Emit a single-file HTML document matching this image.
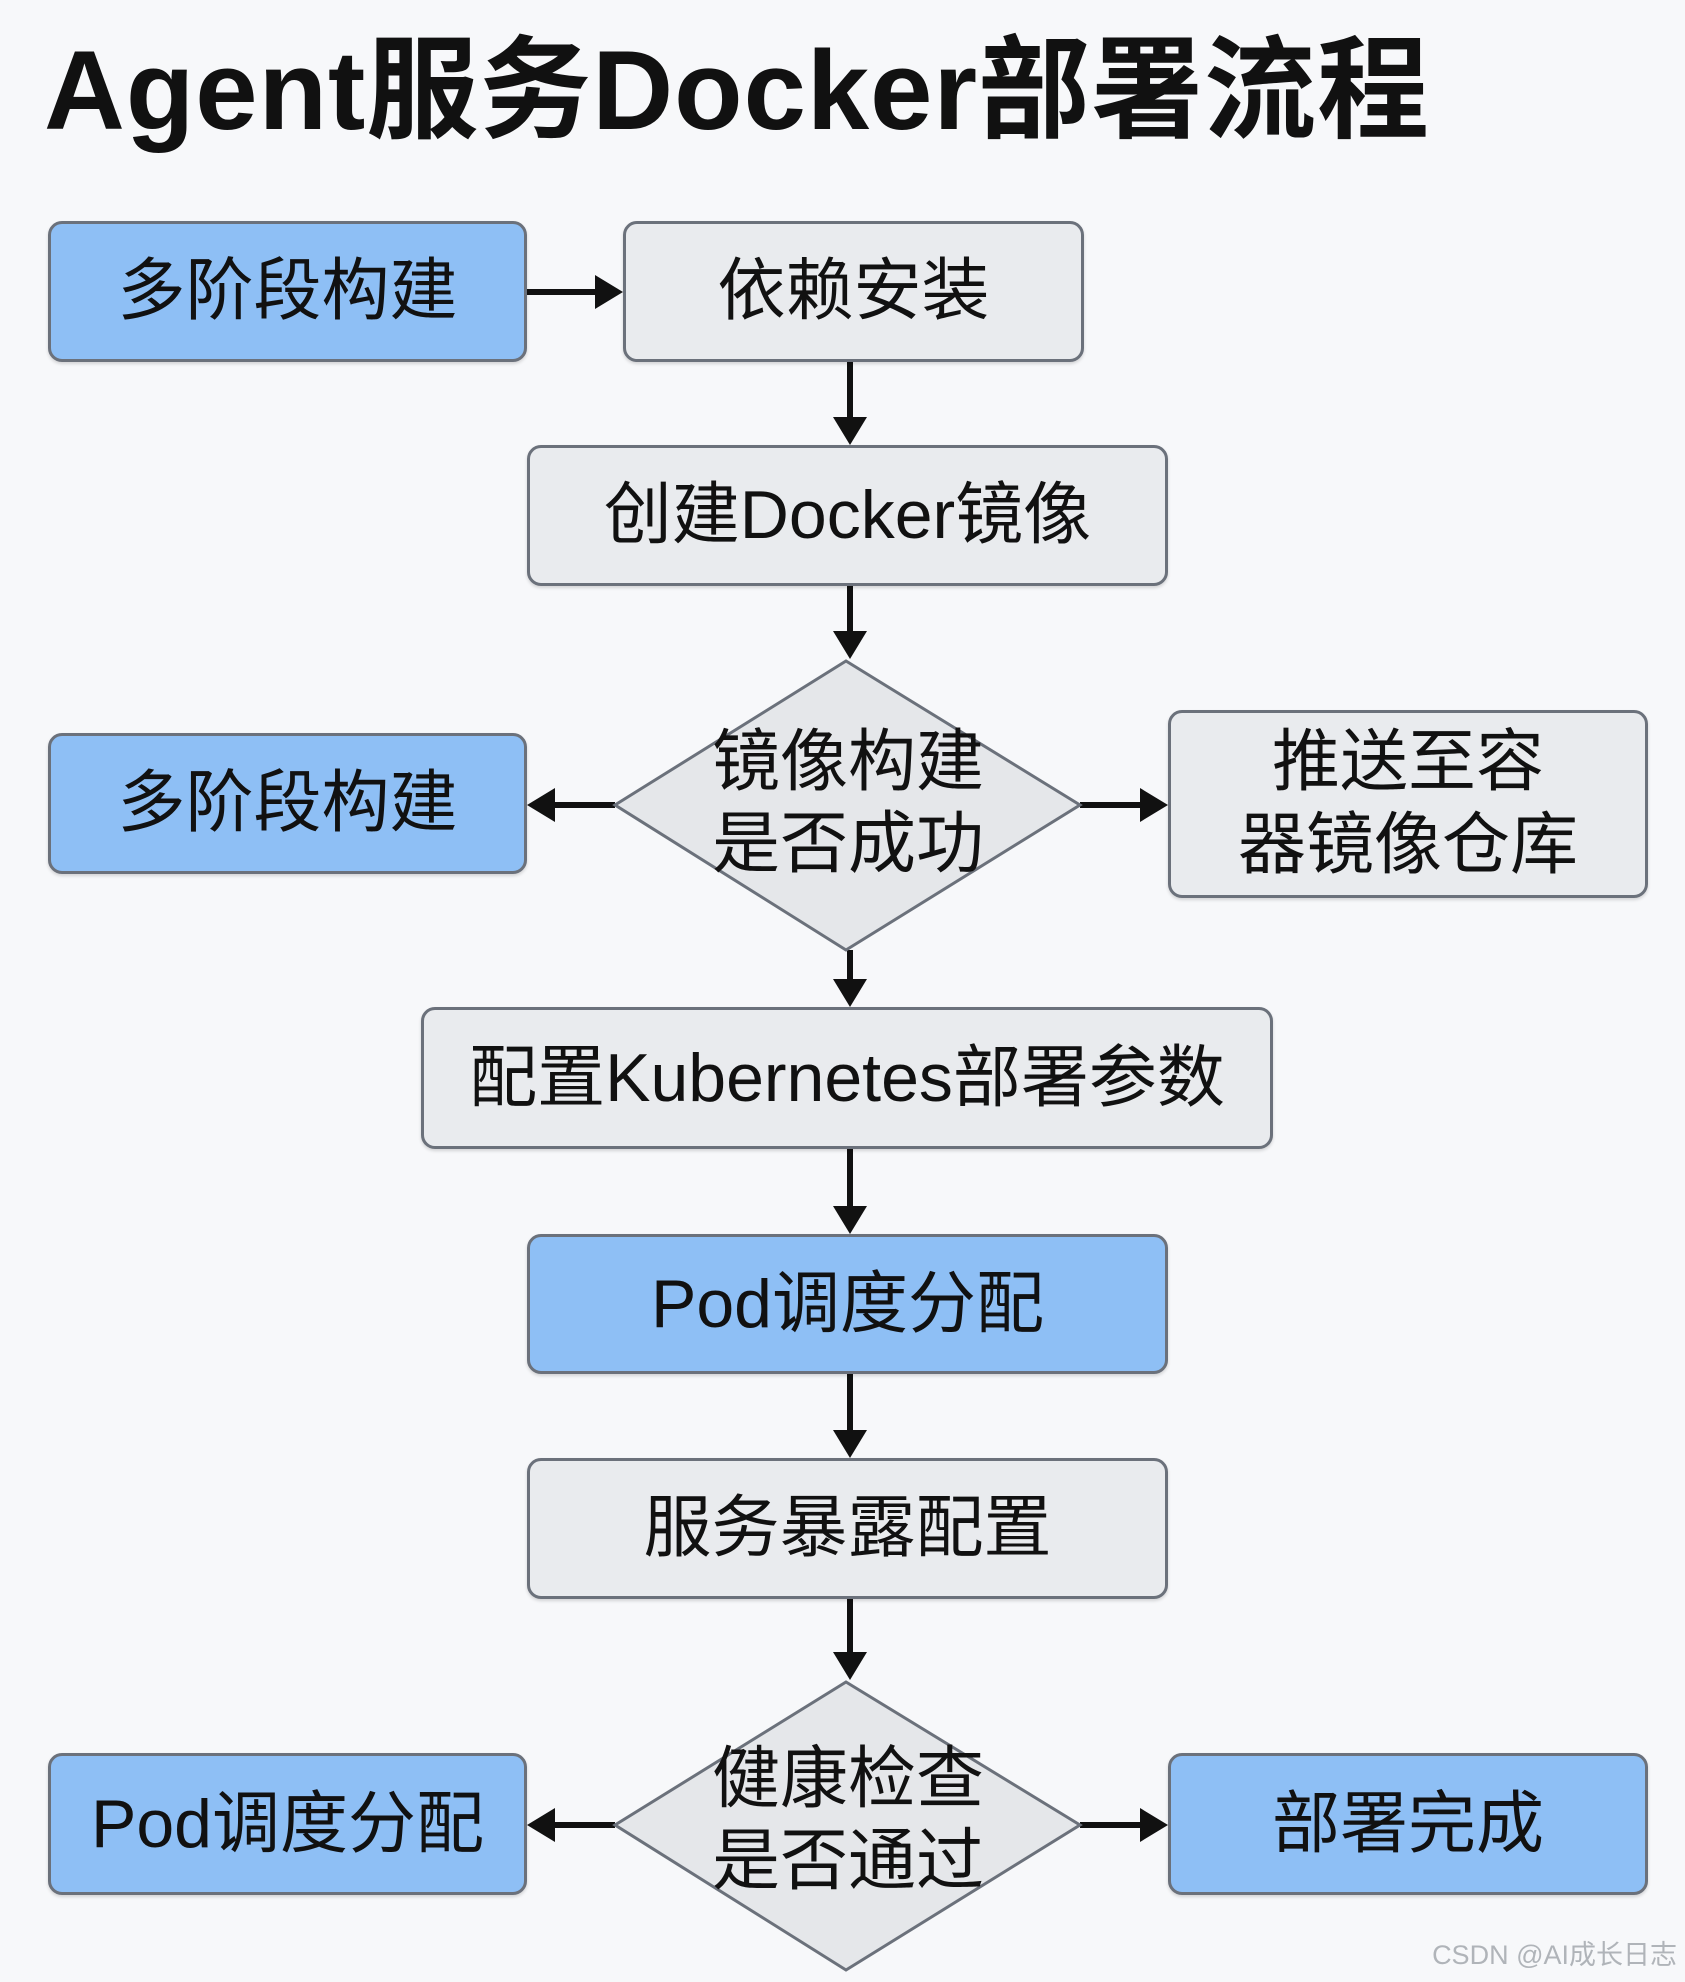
<!DOCTYPE html>
<html><head><meta charset="utf-8"><style>
body{margin:0;width:1685px;height:1982px;background:#f7f8fa;position:relative;overflow:hidden;font-family:"Liberation Sans","Noto Sans CJK SC",sans-serif;}
.t{position:absolute;left:44px;top:0px;font-size:112px;font-weight:bold;color:#111;letter-spacing:1px;white-space:nowrap;}
.b{position:absolute;box-sizing:border-box;border:3px solid #6b717b;border-radius:14px;display:flex;align-items:center;justify-content:center;text-align:center;font-size:68px;color:#111;line-height:1.22;box-shadow:0 2px 3px rgba(0,0,0,.15);}
.bl{background:#8ebff5}.g{background:#e9ebee}
.w{position:absolute;right:8px;bottom:10px;font-size:27px;color:#b0b4b9;}
</style></head><body>
<div class="t">Agent服务Docker部署流程</div>
<svg width="1685" height="1982" style="position:absolute;left:0;top:0">
<g stroke="#111" stroke-width="6" fill="none">
<line x1="527" y1="292" x2="600" y2="292"/>
<line x1="850" y1="362" x2="850" y2="422"/>
<line x1="850" y1="586" x2="850" y2="636"/>
<line x1="615" y1="805" x2="552" y2="805"/>
<line x1="1080" y1="805" x2="1145" y2="805"/>
<line x1="850" y1="950" x2="850" y2="985"/>
<line x1="850" y1="1149" x2="850" y2="1211"/>
<line x1="850" y1="1374" x2="850" y2="1435"/>
<line x1="850" y1="1599" x2="850" y2="1657"/>
<line x1="615" y1="1825" x2="552" y2="1825"/>
<line x1="1080" y1="1825" x2="1145" y2="1825"/>
</g>
<g fill="#111">
<path d="M623,292 l-28,-17 v34z"/>
<path d="M850,445 l-17,-28 h34z"/>
<path d="M850,659 l-17,-28 h34z"/>
<path d="M527,805 l28,-17 v34z"/>
<path d="M1168,805 l-28,-17 v34z"/>
<path d="M850,1007 l-17,-28 h34z"/>
<path d="M850,1234 l-17,-28 h34z"/>
<path d="M850,1458 l-17,-28 h34z"/>
<path d="M850,1680 l-17,-28 h34z"/>
<path d="M527,1825 l28,-17 v34z"/>
<path d="M1168,1825 l-28,-17 v34z"/>
</g>
<polygon points="846,661 1080,805 846,950 615,805" fill="#e5e7ea" stroke="#6b717b" stroke-width="3"/>
<polygon points="846,1682 1080,1825 846,1970 615,1825" fill="#e5e7ea" stroke="#6b717b" stroke-width="3"/>
<g font-size="68" text-anchor="middle" fill="#111" font-family="Liberation Sans, Noto Sans CJK SC, sans-serif">
<text x="848" y="785">镜像构建</text>
<text x="848" y="867">是否成功</text>
<text x="848" y="1802">健康检查</text>
<text x="848" y="1884">是否通过</text>
</g>
</svg>
<div class="b bl" style="left:48px;top:221px;width:479px;height:141px">多阶段构建</div>
<div class="b g" style="left:623px;top:221px;width:461px;height:141px">依赖安装</div>
<div class="b g" style="left:527px;top:445px;width:641px;height:141px">创建Docker镜像</div>
<div class="b bl" style="left:48px;top:733px;width:479px;height:141px">多阶段构建</div>
<div class="b g" style="left:1168px;top:710px;width:480px;height:188px">推送至容<br>器镜像仓库</div>
<div class="b g" style="left:421px;top:1007px;width:852px;height:142px">配置Kubernetes部署参数</div>
<div class="b bl" style="left:527px;top:1234px;width:641px;height:140px">Pod调度分配</div>
<div class="b g" style="left:527px;top:1458px;width:641px;height:141px">服务暴露配置</div>
<div class="b bl" style="left:48px;top:1753px;width:479px;height:142px">Pod调度分配</div>
<div class="b bl" style="left:1168px;top:1753px;width:480px;height:142px">部署完成</div>
<div class="w">CSDN @AI成长日志</div>
</body></html>
